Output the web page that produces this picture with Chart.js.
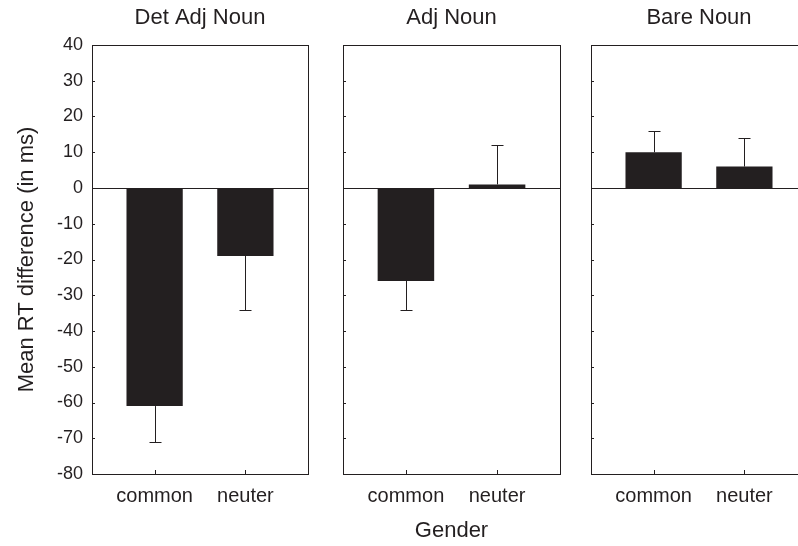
<!DOCTYPE html>
<html>
<head>
<meta charset="utf-8">
<script src="https://cdn.jsdelivr.net/npm/chart.js@4.4.1/dist/chart.umd.min.js"></script>
<style>
  html, body { margin: 0; padding: 0; background: #fff; }
  #wrap { position: relative; width: 798px; height: 546px; overflow: hidden; }
  #wrap canvas { position: absolute; top: 0; }
</style>
</head>
<body>
<div id="wrap">
  <canvas id="p1" width="320" height="546" style="left:0px"></canvas>
  <canvas id="p2" width="240" height="546" style="left:330px"></canvas>
  <canvas id="p3" width="240" height="546" style="left:580px"></canvas>
</div>
<script>
// categories + panel names
const CATEGORIES = ['common', 'neuter'];
const PANELS = ['Det Adj Noun', 'Adj Noun', 'Bare Noun'];

// mean RT differences (ms) per panel
const DET_ADJ_NOUN = [-61, -19];
const ADJ_NOUN = [-26, 1];
const BARE_NOUN = [10, 6];

// where each error bar ends (ms)
const DET_ADJ_NOUN_ERR = [-71, -34];
const ADJ_NOUN_ERR = [-34, 12];
const BARE_NOUN_ERR = [16, 14];

const Y_TICKS = [40, 30, 20, 10, 0, -10, -20, -30, -40, -50, -60, -70, -80];

const FONT = "'Liberation Sans', Arial, Helvetica, sans-serif";
const INK = '#231f20';

// frame, zero line, inward ticks, error bars, panel title
function panelPlugin(title, errEnds) {
  return {
    id: 'panelDecor',
    afterDatasetsDraw(chart) {
      const { ctx, chartArea: a, scales } = chart;
      const xs = scales.x, ys = scales.y;
      ctx.save();
      ctx.strokeStyle = INK;
      ctx.lineWidth = 1;

      // zero line
      const y0 = Math.round(ys.getPixelForValue(0)) + 0.5;
      ctx.beginPath();
      ctx.moveTo(a.left, y0);
      ctx.lineTo(a.right, y0);
      ctx.stroke();

      // inward ticks
      ctx.beginPath();
      Y_TICKS.forEach(v => {
        const y = Math.round(ys.getPixelForValue(v)) + 0.5;
        ctx.moveTo(a.left, y);
        ctx.lineTo(a.left + 3, y);
      });
      CATEGORIES.forEach((c, i) => {
        const x = Math.round(xs.getPixelForValue(i)) + 0.5;
        ctx.moveTo(x, a.bottom);
        ctx.lineTo(x, a.bottom - 4);
      });
      ctx.stroke();

      // error bars (one-sided, away from zero)
      const vals = chart.data.datasets[0].data;
      ctx.beginPath();
      vals.forEach((d, i) => {
        const x = Math.round(xs.getPixelForValue(d.x)) + 0.5;
        const yv = ys.getPixelForValue(d.y);
        const ye = Math.round(ys.getPixelForValue(errEnds[i])) + 0.5;
        ctx.moveTo(x, yv);
        ctx.lineTo(x, ye);
        ctx.moveTo(x - 6, ye);
        ctx.lineTo(x + 6, ye);
      });
      ctx.stroke();

      // frame
      ctx.strokeRect(Math.round(a.left) + 0.5, Math.round(a.top) + 0.5,
        Math.round(a.right - a.left), Math.round(a.bottom - a.top));

      // title
      ctx.fillStyle = INK;
      ctx.font = '22px ' + FONT;
      ctx.textAlign = 'center';
      ctx.textBaseline = 'middle';
      ctx.fillText(title, (a.left + a.right) / 2, 18);
      ctx.restore();
    }
  };
}

function makePanel(id, title, values, errEnds, opts) {
  const canvas = document.getElementById(id);
  return new Chart(canvas, {
    type: 'bar',
    plugins: [panelPlugin(title, errEnds)],
    data: {
      datasets: [{
        data: values.map((v, i) => ({ x: i, y: v })),
        backgroundColor: INK,
        borderWidth: 0,
        categoryPercentage: 1.0,
        barPercentage: 0.62
      }]
    },
    options: {
      responsive: false,
      animation: false,
      layout: { padding: { left: opts.padLeft, right: opts.padRight, top: 45, bottom: 0 } },
      plugins: { legend: { display: false }, tooltip: { enabled: false } },
      scales: {
        x: {
          type: 'linear',
          offset: false,
          min: -0.69,
          max: 1.69,
          afterBuildTicks: s => { s.ticks = CATEGORIES.map((c, i) => ({ value: i })); },
          afterFit: s => { s.height = 72; },
          ticks: {
            callback: v => CATEGORIES[v],
            color: INK,
            font: { family: FONT, size: 20 },
            padding: 10,
            maxRotation: 0
          },
          grid: { display: false, drawTicks: false, offset: false },
          border: { display: false },
          title: {
            display: !!opts.xTitle,
            text: opts.xTitle || '',
            color: INK,
            font: { family: FONT, size: 22 },
            padding: { top: 0, bottom: 2 }
          }
        },
        y: {
          display: opts.showY ? true : 'auto',
          min: -80,
          max: 40,
          afterBuildTicks: s => { s.ticks = Y_TICKS.map(v => ({ value: v })); },
          afterFit: s => { s.width = opts.showY ? 92 : 0; },
          ticks: {
            display: !!opts.showY,
            color: INK,
            font: { family: FONT, size: 18 },
            padding: 9
          },
          grid: { display: false, drawTicks: false },
          border: { display: false },
          title: {
            display: !!opts.showY,
            text: 'Mean RT difference (in ms)',
            color: INK,
            font: { family: FONT, size: 22 },
            padding: { top: 14, bottom: 0 }
          }
        }
      }
    }
  });
}

makePanel('p1', PANELS[0], DET_ADJ_NOUN, DET_ADJ_NOUN_ERR, { padLeft: 0, padRight: 12, showY: true });
makePanel('p2', PANELS[1], ADJ_NOUN, ADJ_NOUN_ERR, { padLeft: 13, padRight: 10, xTitle: 'Gender' });
makePanel('p3', PANELS[2], BARE_NOUN, BARE_NOUN_ERR, { padLeft: 11, padRight: 13 });
</script>
</body>
</html>
